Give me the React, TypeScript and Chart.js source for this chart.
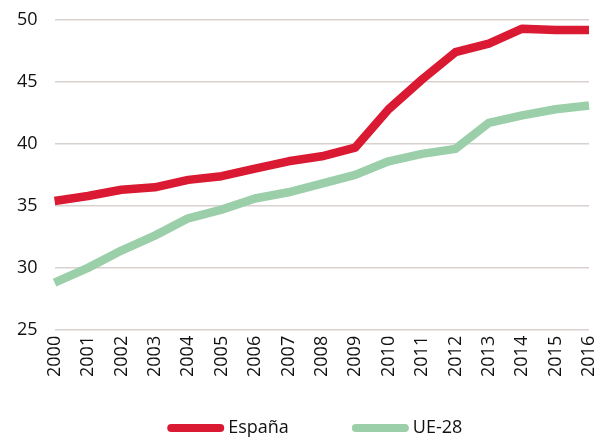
import React, { useEffect, useRef } from "react";
import { Chart, registerables } from "chart.js";

Chart.register(...registerables);

const years = ["2000","2001","2002","2003","2004","2005","2006","2007","2008","2009","2010","2011","2012","2013","2014","2015","2016"];
const espana = [35.4, 35.8, 36.3, 36.5, 37.1, 37.4, 38.0, 38.6, 39.0, 39.7, 42.8, 45.2, 47.4, 48.1, 49.3, 49.2, 49.2];
const ue28 = [28.8, 30.0, 31.4, 32.6, 34.0, 34.7, 35.6, 36.1, 36.8, 37.5, 38.6, 39.2, 39.6, 41.7, 42.3, 42.8, 43.1];
const yTicks = [25, 30, 35, 40, 45, 50];

const FONT = "'Open Sans', 'DejaVu Sans', sans-serif";

const customLegend = {
  id: "customLegend",
  afterDraw(chart: any) {
    const ctx = chart.ctx;
    const area = chart.chartArea;
    const lineW = 57;
    const gapText = 4;
    const gapItem = 63;
    ctx.save();
    ctx.font = `18px ${FONT}`;
    const items = chart.data.datasets.map((d: any) => ({ label: d.label, color: d.borderColor, tw: ctx.measureText(d.label).width }));
    const total = items.reduce((s: number, it: any) => s + lineW + gapText + it.tw, 0) + gapItem * (items.length - 1);
    let x = (area.left + area.right) / 2 - 7 - total / 2;
    const y = 428;
    ctx.textBaseline = "middle";
    ctx.textAlign = "left";
    for (const it of items) {
      ctx.strokeStyle = it.color;
      ctx.lineWidth = 8;
      ctx.lineCap = "round";
      ctx.beginPath();
      ctx.moveTo(x + 4, y);
      ctx.lineTo(x + lineW - 4, y);
      ctx.stroke();
      ctx.fillStyle = "#111";
      ctx.fillText(it.label, x + lineW + gapText, y);
      x += lineW + gapText + it.tw + gapItem;
    }
    ctx.restore();
  },
};

export default function App() {
  const ref = useRef<HTMLCanvasElement>(null);
  useEffect(() => {
    if (!ref.current) return;
    const chart = new Chart(ref.current, {
      type: "line",
      data: {
        labels: years,
        datasets: [
          { label: "España", data: espana, borderColor: "#DA1A32", backgroundColor: "#DA1A32", borderWidth: 8.5, pointRadius: 0, tension: 0, borderCapStyle: "butt", borderJoinStyle: "round" },
          { label: "UE-28", data: ue28, borderColor: "#9BCFA9", backgroundColor: "#9BCFA9", borderWidth: 8.5, pointRadius: 0, tension: 0, borderCapStyle: "butt", borderJoinStyle: "round" },
        ],
      },
      options: {
        animation: false,
        responsive: false,
        maintainAspectRatio: false,
        layout: { padding: { left: 0, right: 16, top: 20, bottom: 56 } },
        plugins: {
          tooltip: { enabled: false },
          legend: { display: false },
        },
        scales: {
          x: {
            offset: false,
            grid: { display: false, drawTicks: false },
            border: { display: false },
            ticks: { font: { family: FONT, size: 18 }, color: "#111", maxRotation: 90, minRotation: 90, padding: 6, autoSkip: false },
            afterFit: (s: any) => { s.paddingLeft = 0; s.paddingRight = 0; },
          },
          y: {
            min: 25,
            max: 50,
            afterBuildTicks: (s: any) => { s.ticks = yTicks.map((v) => ({ value: v })); },
            grid: { color: "#D8D2CF", lineWidth: 1.5, drawTicks: false },
            border: { display: false },
            ticks: { font: { family: FONT, size: 18 }, color: "#111", padding: 17 },
            afterFit: (s: any) => { s.paddingTop = 0; s.paddingBottom = 0; },
          },
        },
      },
      plugins: [customLegend],
    });
    return () => chart.destroy();
  }, []);
  return (
    <div style={{ position: "fixed", left: 0, top: 0, width: 605, height: 439, background: "#fff" }}>
      <canvas ref={ref} width={605} height={439} style={{ width: 605, height: 439 }} />
    </div>
  );
}
